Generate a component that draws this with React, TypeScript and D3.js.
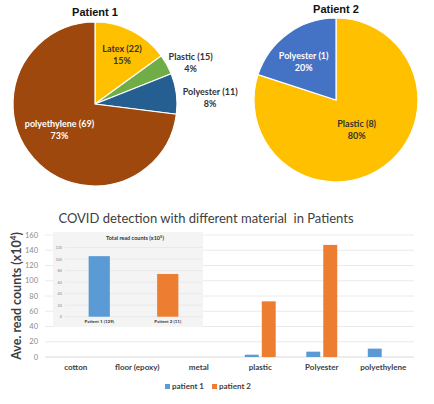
import React from "react";
import * as d3 from "d3";

// ---- data ----
const pie1Labels = ["Latex (22)", "Plastic (15)", "Polyester (11)", "polyethylene (69)"];
const pie1Values = [15, 4, 8, 73];
const pie1Colors = ["#FFC000", "#70AD47", "#255E91", "#9E480E"];

const pie2Labels = ["Plastic (8)", "Polyester (1)"];
const pie2Values = [80, 20];
const pie2Colors = ["#FFC000", "#4472C4"];

const categories = ["cotton", "floor (epoxy)", "metal", "plastic", "Polyester", "polyethylene"];
const patient1 = [0, 0, 0, 3, 7, 11];
const patient2 = [0, 0, 0, 73, 147, 0];
const seriesNames = ["patient 1", "patient 2"];
const seriesColors = ["#5B9BD5", "#ED7D31"];
const yTicks = [0, 20, 40, 60, 80, 100, 120, 140, 160];

const insetCategories = ["Patient 1 (129)", "Patient 2 (11)"];
const insetValues = [105, 74];
const insetTicks = [0, 20, 40, 60, 80, 100, 120];

const FONT = "Lato, 'Open Sans', sans-serif";

function PieChart({ cx, cy, r, title, titleY, labels, values, colors, labelSpecs }: any) {
  const pie = d3.pie<number>().sort(null).value((d) => d);
  const arcs = pie(values);
  const arc = d3.arc<any>().innerRadius(0).outerRadius(r);
  return (
    <g>
      <text x={cx} y={titleY} textAnchor="middle" fontFamily="'Liberation Sans', Arial, sans-serif" fontWeight="bold" fontSize={11} fill="#111">
        {title}
      </text>
      <g transform={`translate(${cx},${cy})`}>
        {arcs.map((a, i) => (
          <path key={i} d={arc(a) as string} fill={colors[i]} stroke="#fff" strokeWidth={1.2} />
        ))}
        {arcs.map((a, i) => {
          const s = labelSpecs[i];
          const la = d3.arc<any>().innerRadius(s.r).outerRadius(s.r);
          const [lx, ly] = la.centroid(a);
          const x = lx + (s.dx || 0);
          const y = ly + (s.dy || 0);
          const pct = Math.round((values[i] / d3.sum(values)) * 100) + "%";
          return (
            <text key={"l" + i} textAnchor="middle" fontFamily={FONT} fontWeight="bold" fontSize={9} fill={s.color}>
              <tspan x={x} y={y - 3}>{labels[i]}</tspan>
              <tspan x={x} y={y + 9}>{pct}</tspan>
            </text>
          );
        })}
      </g>
    </g>
  );
}

export default function App() {
  const W = 434, H = 404;

  // main bar chart
  const x0 = d3.scaleBand().domain(categories).range([45, 414]);
  const x1 = d3.scaleBand().domain(seriesNames).range([0, x0.bandwidth()]).paddingInner(0.18).paddingOuter(0.9);
  const y = d3.scaleLinear().domain([0, 160]).range([357, 235]);
  const series = [patient1, patient2];

  // inset
  const ix = d3.scaleBand().domain(insetCategories).range([65, 202]).paddingInner(0.69).paddingOuter(0.345);
  const iy = d3.scaleLinear().domain([0, 120]).range([316.7, 247.5]);

  return (
    <svg width={W} height={H} style={{ position: "absolute", left: 0, top: 0, background: "#fff" }}>
      <rect width={W} height={H} fill="#fff" />
      <PieChart
        cx={95} cy={104} r={82} title="Patient 1" titleY={16}
        labels={pie1Labels} values={pie1Values} colors={pie1Colors}
        labelSpecs={[
          { r: 55, color: "#333", dx: 2, dy: 0 },
          { r: 100, color: "#333", dx: 8, dy: 7 },
          { r: 110, color: "#333", dx: 6, dy: 8 },
          { r: 50, color: "#fff", dx: 2, dy: -7 },
        ]}
      />
      <PieChart
        cx={336} cy={100} r={82} title="Patient 2" titleY={13}
        labels={pie2Labels} values={pie2Values} colors={pie2Colors}
        labelSpecs={[
          { r: 42, color: "#333", dx: -4, dy: -4 },
          { r: 55, color: "#fff", dx: 0, dy: 6 },
        ]}
      />

      {/* bar chart title */}
      <text x={206} y={223} textAnchor="middle" fontFamily={FONT} fontSize={13} fill="#404040" style={{ whiteSpace: "pre" }}>
        {"COVID detection with different material  in Patients"}
      </text>

      {/* gridlines */}
      {yTicks.map((t) => (
        <g key={t}>
          <line x1={45} x2={414} y1={y(t)} y2={y(t)} stroke={t === 0 ? "#d0d0d0" : "#e4e4e4"} strokeWidth={0.8} />
          <text x={38} y={y(t) + 2.5} textAnchor="end" fontFamily={FONT} fontSize={7.5} fill="#8a8a8a">{t}</text>
        </g>
      ))}

      {/* y axis label */}
      <text transform={`translate(21,${y(80)}) rotate(-90)`} textAnchor="middle" fontFamily={FONT} fontWeight="bold" fontSize={12.5} fill="#404040">
        Ave. read counts (x10<tspan dy={-5} fontSize={8}>4</tspan><tspan dy={5}>)</tspan>
      </text>

      {/* inset */}
      <rect x={53} y={232} width={150} height={95} fill="#f4f4f4" />
      <text x={135} y={240} textAnchor="middle" fontFamily={FONT} fontWeight="bold" fontSize={5.5} fill="#333">
        Total read counts (x10<tspan dy={-2} fontSize={4}>5</tspan><tspan dy={2}>)</tspan>
      </text>
      {insetTicks.map((t) => (
        <g key={"i" + t}>
          <line x1={65} x2={202} y1={iy(t)} y2={iy(t)} stroke="#e2e2e2" strokeWidth={0.6} />
          <text x={62} y={iy(t) + 1.5} textAnchor="end" fontFamily={FONT} fontSize={3.8} fill="#888">{t}</text>
        </g>
      ))}
      {insetCategories.map((c, i) => (
        <g key={c}>
          <rect x={ix(c)} y={iy(insetValues[i])} width={ix.bandwidth()} height={iy(0) - iy(insetValues[i])} fill={seriesColors[i]} />
          <text x={(ix(c) as number) + ix.bandwidth() / 2} y={323} textAnchor="middle" fontFamily={FONT} fontWeight="bold" fontSize={4.5} fill="#333">{c}</text>
        </g>
      ))}

      {/* bars */}
      {categories.map((c, ci) => (
        <g key={c} transform={`translate(${x0(c)},0)`}>
          {series.map((s, si) =>
            s[ci] > 0 ? (
              <rect key={si} x={x1(seriesNames[si])} y={y(s[ci])} width={x1.bandwidth()} height={y(0) - y(s[ci])} fill={seriesColors[si]} />
            ) : null
          )}
          <text x={x0.bandwidth() / 2} y={370} textAnchor="middle" fontFamily={FONT} fontWeight="bold" fontSize={8} fill="#404040">{c}</text>
        </g>
      ))}

      {/* legend */}
      {seriesNames.map((n, i) => (
        <g key={n} transform={`translate(${165 + i * 47},389)`}>
          <rect x={0} y={-5} width={5} height={5} fill={seriesColors[i]} />
          <text x={7} y={0} fontFamily={FONT} fontWeight="bold" fontSize={8} fill="#404040">{n}</text>
        </g>
      ))}
    </svg>
  );
}
